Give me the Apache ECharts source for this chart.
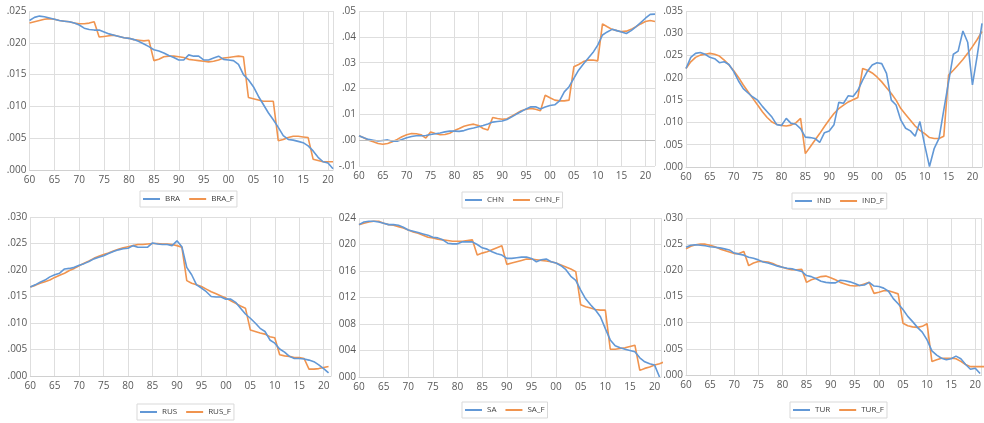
<!DOCTYPE html>
<html>
<head>
<meta charset="utf-8">
<script src="https://cdn.jsdelivr.net/npm/echarts@6/dist/echarts.min.js"></script>
<style>
  html, body { margin: 0; padding: 0; background: #ffffff; }
  #chart { width: 984px; height: 423px; }
</style>
</head>
<body>
<div id="chart"></div>
<script>
// ---------- DATA (values start in 1960, one per year) ----------
const START_YEAR = 1960;
const X_LABELS = ['60','65','70','75','80','85','90','95','00','05','10','15','20'];

const BRA = [
  .0235,.0240,.0242,.0241,.0239,.0237,.0235,.0234,.0233,.0231,
  .0228,.0223,.0221,.0220,.0220,.0217,.0214,.0212,.0210,.0208,
  .0207,.0205,.0202,.0198,.0194,.0189,.0187,.0184,.0180,.0177,
  .0173,.0173,.0181,.0179,.0179,.0173,.0173,.0176,.0179,.0174,
  .0173,.0172,.0166,.0150,.0142,.0131,.0116,.0103,.0090,.0079,
  .0067,.0054,.0048,.0047,.0045,.0043,.0038,.0030,.0020,.0013,
  .0011,.0002];
const BRA_F = [
  .0231,.0233,.0235,.0237,.0238,.0237,.0235,.0234,.0233,.0231,
  .0230,.0230,.0231,.0233,.0209,.0210,.0211,.0212,.0210,.0208,
  .0207,.0205,.0204,.0203,.0204,.0172,.0174,.0178,.0179,.0179,
  .0178,.0177,.0174,.0173,.0172,.0171,.0170,.0171,.0173,.0176,
  .0177,.0178,.0179,.0178,.0114,.0112,.0110,.0108,.0108,.0108,
  .0046,.0048,.0051,.0053,.0053,.0052,.0051,.0017,.0015,.0013,
  .0013,.0013];

const CHN = [
  .0017,.0009,.0003,.0000,-.0003,-.0001,.0001,-.0004,-.0004,.0003,
  .0009,.0014,.0017,.0017,.0018,.0022,.0025,.0028,.0032,.0035,
  .0035,.0034,.0037,.0043,.0047,.0052,.0057,.0063,.0070,.0072,
  .0074,.0080,.0090,.0101,.0111,.0121,.0129,.0129,.0121,.0128,
  .0134,.0137,.0152,.0187,.0207,.0239,.0271,.0295,.0317,.0339,
  .0368,.0407,.0419,.0429,.0424,.0419,.0413,.0424,.0439,.0455,
  .0472,.0487,.0488];
const CHN_F = [
  .0017,.0009,.0000,-.0006,-.0013,-.0016,-.0013,-.0006,.0003,.0013,
  .0021,.0026,.0025,.0021,.0008,.0032,.0026,.0021,.0022,.0027,
  .0037,.0045,.0054,.0059,.0062,.0057,.0045,.0039,.0088,.0084,
  .0081,.0083,.0093,.0103,.0114,.0120,.0123,.0120,.0114,.0174,
  .0164,.0155,.0152,.0152,.0155,.0284,.0293,.0304,.0310,.0310,
  .0307,.0450,.0439,.0429,.0424,.0420,.0422,.0429,.0439,.0450,
  .0459,.0463,.0459];

const IND = [
  .0221,.0246,.0255,.0257,.0253,.0246,.0243,.0234,.0236,.0230,
  .0214,.0193,.0176,.0166,.0157,.0150,.0136,.0124,.0112,.0095,
  .0093,.0109,.0098,.0096,.0086,.0067,.0066,.0064,.0055,.0077,
  .0081,.0095,.0145,.0143,.0160,.0158,.0172,.0195,.0215,.0229,
  .0234,.0232,.0210,.0150,.0139,.0105,.0087,.0081,.0069,.0102,
  .0049,.0001,.0042,.0064,.0128,.0191,.0253,.0260,.0305,.0280,
  .0184,.0250,.0322];
const IND_F = [
  .0221,.0236,.0246,.0251,.0253,.0255,.0253,.0249,.0240,.0229,
  .0216,.0201,.0184,.0169,.0154,.0139,.0124,.0111,.0101,.0096,
  .0093,.0092,.0094,.0099,.0109,.0030,.0045,.0060,.0075,.0091,
  .0106,.0120,.0131,.0139,.0146,.0151,.0156,.0221,.0217,.0211,
  .0202,.0191,.0178,.0165,.0150,.0131,.0118,.0105,.0092,.0082,
  .0075,.0066,.0064,.0064,.0069,.0206,.0217,.0229,.0241,.0255,
  .0270,.0286,.0304];

const RUS = [
  .0168,.0172,.0177,.0181,.0187,.0191,.0194,.0202,.0203,.0205,
  .0209,.0212,.0216,.0221,.0224,.0227,.0231,.0235,.0238,.0240,
  .0241,.0246,.0243,.0243,.0243,.0251,.0249,.0248,.0248,.0246,
  .0255,.0244,.0205,.0191,.0172,.0166,.0159,.0150,.0149,.0149,
  .0145,.0145,.0139,.0128,.0117,.0109,.0100,.0090,.0084,.0068,
  .0062,.0051,.0045,.0037,.0033,.0033,.0032,.0030,.0027,.0021,
  .0014,.0006];
const RUS_F = [
  .0168,.0171,.0175,.0178,.0181,.0186,.0190,.0194,.0199,.0203,
  .0208,.0213,.0217,.0222,.0226,.0229,.0232,.0236,.0239,.0242,
  .0244,.0246,.0248,.0248,.0249,.0250,.0250,.0249,.0249,.0248,
  .0246,.0243,.0180,.0175,.0172,.0169,.0164,.0159,.0155,.0151,
  .0147,.0142,.0137,.0132,.0128,.0087,.0084,.0081,.0079,.0074,
  .0072,.0040,.0038,.0037,.0035,.0035,.0033,.0013,.0013,.0014,
  .0016,.0018];

const SA = [
  .0230,.0234,.0235,.0235,.0234,.0232,.0230,.0230,.0229,.0226,
  .0222,.0220,.0218,.0216,.0214,.0211,.0210,.0207,.0202,.0201,
  .0201,.0204,.0204,.0204,.0200,.0195,.0193,.0189,.0186,.0184,
  .0179,.0179,.0180,.0181,.0181,.0179,.0174,.0177,.0178,.0174,
  .0172,.0168,.0162,.0152,.0146,.0131,.0118,.0109,.0101,.0091,
  .0073,.0056,.0047,.0044,.0042,.0040,.0038,.0029,.0023,.0020,
  .0018,.0000];
const SA_F = [
  .0230,.0232,.0234,.0235,.0235,.0232,.0230,.0229,.0227,.0225,
  .0222,.0219,.0217,.0214,.0211,.0210,.0208,.0207,.0206,.0205,
  .0205,.0205,.0206,.0207,.0184,.0187,.0189,.0192,.0195,.0198,
  .0170,.0172,.0174,.0176,.0178,.0178,.0177,.0176,.0175,.0174,
  .0172,.0169,.0166,.0163,.0159,.0109,.0106,.0104,.0102,.0101,
  .0101,.0042,.0042,.0043,.0044,.0046,.0048,.0010,.0013,.0015,
  .0018,.0020,.0023];

const TUR = [
  .0244,.0248,.0249,.0248,.0247,.0245,.0244,.0243,.0241,.0239,
  .0233,.0231,.0229,.0225,.0223,.0220,.0216,.0214,.0211,.0208,
  .0206,.0204,.0203,.0200,.0198,.0190,.0188,.0184,.0179,.0177,
  .0176,.0176,.0181,.0180,.0178,.0175,.0171,.0172,.0177,.0170,
  .0169,.0166,.0160,.0146,.0136,.0125,.0112,.0102,.0091,.0082,
  .0067,.0046,.0038,.0032,.0029,.0031,.0036,.0031,.0020,.0011,
  .0013,.0003];
const TUR_F = [
  .0241,.0246,.0249,.0250,.0250,.0248,.0245,.0241,.0238,.0235,
  .0232,.0232,.0236,.0209,.0214,.0217,.0217,.0216,.0213,.0209,
  .0206,.0203,.0201,.0201,.0202,.0177,.0182,.0185,.0188,.0189,
  .0186,.0182,.0177,.0174,.0171,.0170,.0171,.0174,.0177,.0156,
  .0158,.0161,.0161,.0158,.0155,.0099,.0094,.0092,.0091,.0093,
  .0098,.0026,.0029,.0032,.0032,.0032,.0031,.0026,.0020,.0016,
  .0016,.0016,.0016];

// tick labels
const Y_BRA = ['.000','.005','.010','.015','.020','.025'];
const Y_CHN = ['-.01','.00','.01','.02','.03','.04','.05'];
const Y_IND = ['.000','.005','.010','.015','.020','.025','.030','.035'];
const Y_RUS = ['.000','.005','.010','.015','.020','.025','.030'];
const Y_SA  = ['000','004','008','012','016','020','024'];
const Y_TUR = ['.000','.005','.010','.015','.020','.025','.030'];

// ---------- LAYOUT ----------
const BLUE = '#6298d6';
const ORANGE = '#f0944f';
const GRID_COLOR = '#dedede';
const TEXT_COLOR = '#595959';
const FONT = 'Open Sans';

const panels = [
  {name:'BRA', a:BRA, f:BRA_F, yl:Y_BRA, ymin:0,    yint:0.005, xmax:2021,   g:{left:29.5,right:651,top:11,bottom:253}, lg:{left:140,top:191}},
  {name:'CHN', a:CHN, f:CHN_F, yl:Y_CHN, ymin:-0.01,yint:0.01,  xmax:2022,   g:{left:359,right:329,top:11,bottom:257}, lg:{left:462,top:192}, zero:true},
  {name:'IND', a:IND, f:IND_F, yl:Y_IND, ymin:0,    yint:0.005, xmax:2022,   g:{left:686,right:2,top:11,bottom:256},   lg:{left:792,top:193}},
  {name:'RUS', a:RUS, f:RUS_F, yl:Y_RUS, ymin:0,    yint:0.005, xmax:2021.5, g:{left:30.3,right:653,top:217,bottom:47}, lg:{left:137,top:404}},
  {name:'SA',  a:SA,  f:SA_F,  yl:Y_SA,  ymin:0,    yint:0.004, xmax:2021.3, g:{left:359,right:323,top:218,bottom:46}, lg:{left:462,top:402}},
  {name:'TUR', a:TUR, f:TUR_F, yl:Y_TUR, ymin:0,    yint:0.005, xmax:2021.3, g:{left:686,right:0,top:218,bottom:48},   lg:{left:790,top:402}}
];

function toPairs(arr) { return arr.map((v, i) => [START_YEAR + i, v]); }

const option = {
  backgroundColor: '#ffffff',
  animation: false,
  textStyle: { fontFamily: FONT },
  grid: [], xAxis: [], yAxis: [], series: [], legend: []
};

panels.forEach((p, k) => {
  option.grid.push(Object.assign({ containLabel: false }, p.g));
  option.xAxis.push({
    type: 'value', gridIndex: k, min: 1960, max: p.xmax, interval: 5,
    axisLine: { show: !p.zero, onZero: false, lineStyle: { color: '#d0d0d0' } },
    axisTick: { show: false },
    splitLine: { show: true, lineStyle: { color: GRID_COLOR, width: 1 } },
    axisLabel: {
      color: TEXT_COLOR, fontSize: 10, fontFamily: FONT, margin: 5,
      showMaxLabel: false,
      formatter: v => {
        const i = Math.round((v - 1960) / 5);
        return Math.abs(v - (1960 + i * 5)) < 1e-6 && X_LABELS[i] ? X_LABELS[i] : '';
      }
    }
  });
  const ymax = p.ymin + p.yint * (p.yl.length - 1);
  option.yAxis.push({
    type: 'value', gridIndex: k, min: p.ymin, max: ymax, interval: p.yint,
    axisLine: { show: false }, axisTick: { show: false },
    splitLine: { show: true, lineStyle: { color: GRID_COLOR, width: 1 } },
    axisLabel: {
      color: TEXT_COLOR, fontSize: 10, fontFamily: FONT, margin: 3,
      formatter: v => {
        const i = Math.round((v - p.ymin) / p.yint);
        return p.yl[i] !== undefined ? p.yl[i] : '';
      }
    }
  });
  const base = { type: 'line', xAxisIndex: k, yAxisIndex: k, showSymbol: false, symbol: 'none', clip: true };
  const s1 = Object.assign({}, base, { name: p.name, data: toPairs(p.a), z: 3,
    lineStyle: { color: BLUE, width: 1.6 }, itemStyle: { color: BLUE } });
  if (p.zero) {
    s1.markLine = { silent: true, symbol: 'none', label: { show: false },
      lineStyle: { color: '#bdbdbd', type: 'solid', width: 1 }, data: [{ yAxis: 0 }] };
  }
  option.series.push(s1);
  option.series.push(Object.assign({}, base, { name: p.name + '_F', data: toPairs(p.f), z: 2,
    lineStyle: { color: ORANGE, width: 1.6 }, itemStyle: { color: ORANGE } }));
  option.legend.push({
    data: [p.name, p.name + '_F'], left: p.lg.left, top: p.lg.top,
    orient: 'horizontal', icon: 'rect', itemWidth: 17, itemHeight: 2, itemGap: 9,
    padding: [4, 3], borderColor: '#d9d9d9', borderWidth: 1, borderRadius: 0,
    textStyle: { color: '#404040', fontSize: 8, fontFamily: FONT },
    selectedMode: false
  });
});

const chart = echarts.init(document.getElementById('chart'), null, { renderer: 'canvas' });
chart.setOption(option);
</script>
</body>
</html>
